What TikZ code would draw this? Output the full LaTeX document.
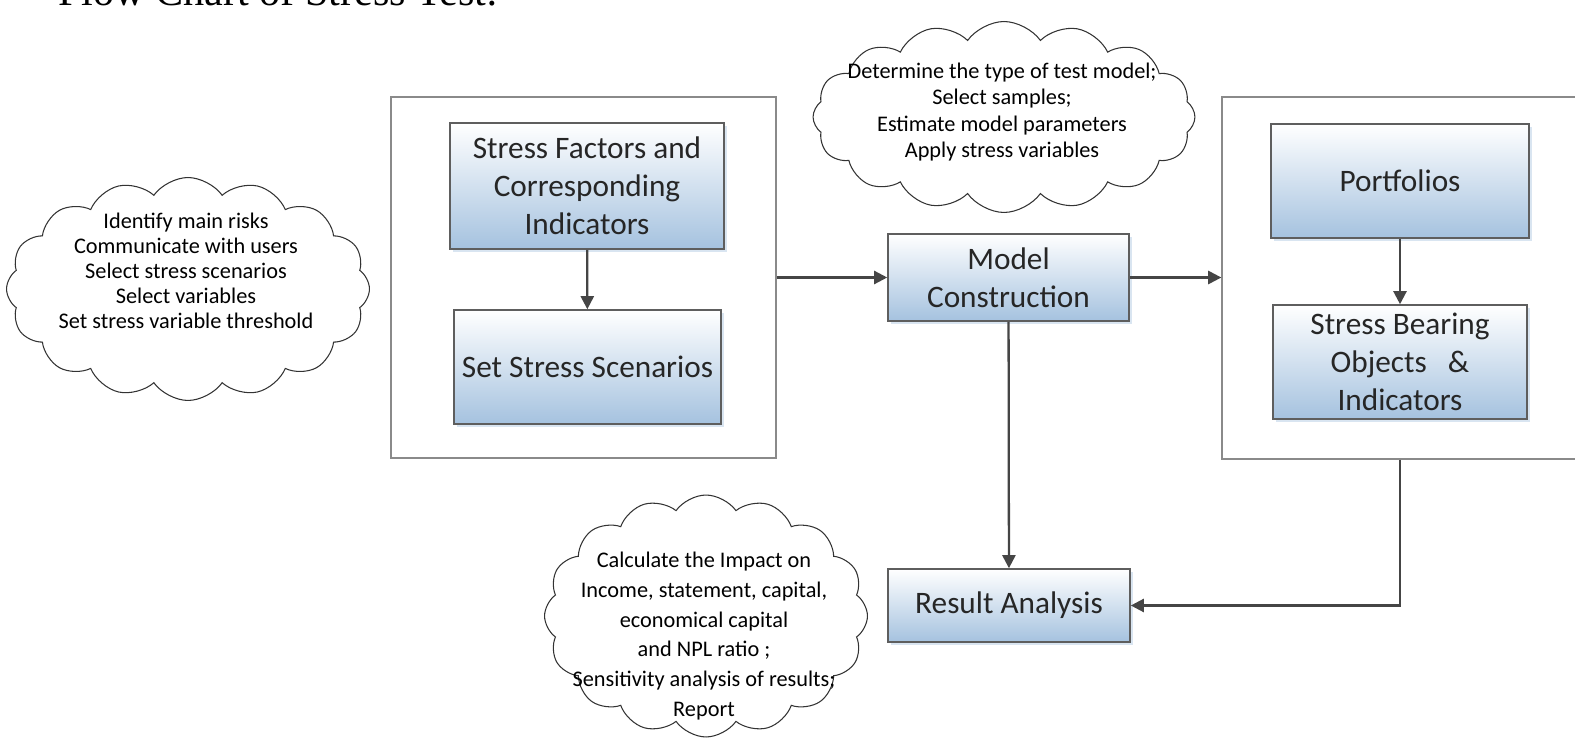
\documentclass[tikz,border=0pt]{standalone}
\usepackage{fontspec}
\setmainfont{Carlito}
\newfontfamily\titlefont{Liberation Serif}
\usetikzlibrary{arrows.meta,positioning,shapes.symbols,shadows}
\definecolor{edge}{HTML}{5E5E5E}
\definecolor{framegray}{HTML}{8A8A8A}
\definecolor{boxblue}{HTML}{A5C2DF}
\definecolor{shadowblue}{HTML}{D9E5F1}
\definecolor{arrowgray}{HTML}{454545}

\begin{document}
\begin{tikzpicture}[x=0.02cm,y=-0.02cm,
  frame/.style={draw=framegray,line width=0.8pt,fill=white},
  stage/.style={draw=edge,line width=0.9pt,top color=white,bottom color=boxblue,
                align=center,inner sep=0pt,text=black!85,
                font=\fontsize{17.8}{21.5}\selectfont,
                drop shadow={shadow xshift=1.6pt,shadow yshift=-1.6pt,fill=shadowblue,opacity=1}},
  note/.style={cloud,cloud puffs=16,cloud puff arc=110,cloud ignores aspect,
               draw=black!80,line width=0.6pt,inner sep=0pt},
  notetxt/.style={align=center,font=\fontsize{12.7}{14.2}\selectfont},
  arr/.style={-{Triangle[length=7.5pt,width=7.5pt]},line width=1.3pt,arrowgray}
]
  \useasboundingbox (0,0) rectangle (1575,739);
  \node[anchor=base west,font=\titlefont\fontsize{24}{28}\selectfont] (title) at (52,6)
    {Flow Chart of Stress Test:};

  % the two frames
  \node[frame,minimum width=7.7cm,minimum height=7.22cm]  (scenframe) at (583.5,277.5) {};
  \node[frame,minimum width=7.56cm,minimum height=7.24cm] (objframe)  at (1411,278) {};

  \node[stage,minimum width=5.48cm,minimum height=2.52cm] (factors) at (587,186)
    {Stress Factors and\\Corresponding\\Indicators};
  \node[stage,minimum width=5.34cm,minimum height=2.28cm] (scen) at (587.5,367)
    {Set Stress Scenarios};
  \node[stage,minimum width=4.82cm,minimum height=1.74cm] (model) at (1008.5,277.5)
    {Model\\Construction};
  \node[stage,minimum width=4.84cm,minimum height=1.46cm] (result) at (1009,605.5)
    {Result Analysis};
  \node[stage,minimum width=5.16cm,minimum height=2.28cm] (portf) at (1400,181)
    {Portfolios};
  \node[stage,minimum width=5.08cm,minimum height=2.28cm] (bearing) at (1400,362)
    {Stress Bearing\\Objects\ \ \ \&\\Indicators};

  % clouds
  \node[note,minimum width=7.26cm,minimum height=4.46cm] (riskcloud) at (188,289) {};
  \node[notetxt] (risktxt) at (186,271)
    {Identify main risks\\Communicate with users\\Select stress scenarios\\Select variables\\Set stress variable threshold};
  \node[note,minimum width=7.64cm,minimum height=3.82cm] (modelcloud) at (1004,117) {};
  \node[notetxt,font=\fontsize{12.7}{15}\selectfont] (modeltxt) at (1002,112)
    {Determine the type of test model;\\Select samples;\\Estimate model parameters\\Apply stress variables};
  \node[note,minimum width=6.46cm,minimum height=4.84cm] (reportcloud) at (706,616) {};
  \node[notetxt,font=\fontsize{12.7}{17}\selectfont] (reporttxt) at (704,636)
    {Calculate the Impact on\\Income, statement, capital,\\economical capital\\and NPL ratio ;\\Sensitivity analysis of results;\\Report};

  \draw[arr] (factors) -- (scen);
  \draw[arr] (portf) -- (bearing);
  \draw[arr] (scenframe) -- (model);
  \draw[arr] (model.east) -- (model.east -| objframe.west);
  \draw[arr] (model) -- (result);
  \draw[arr] (portf |- objframe.south) |- (result);
\end{tikzpicture}
\end{document}
